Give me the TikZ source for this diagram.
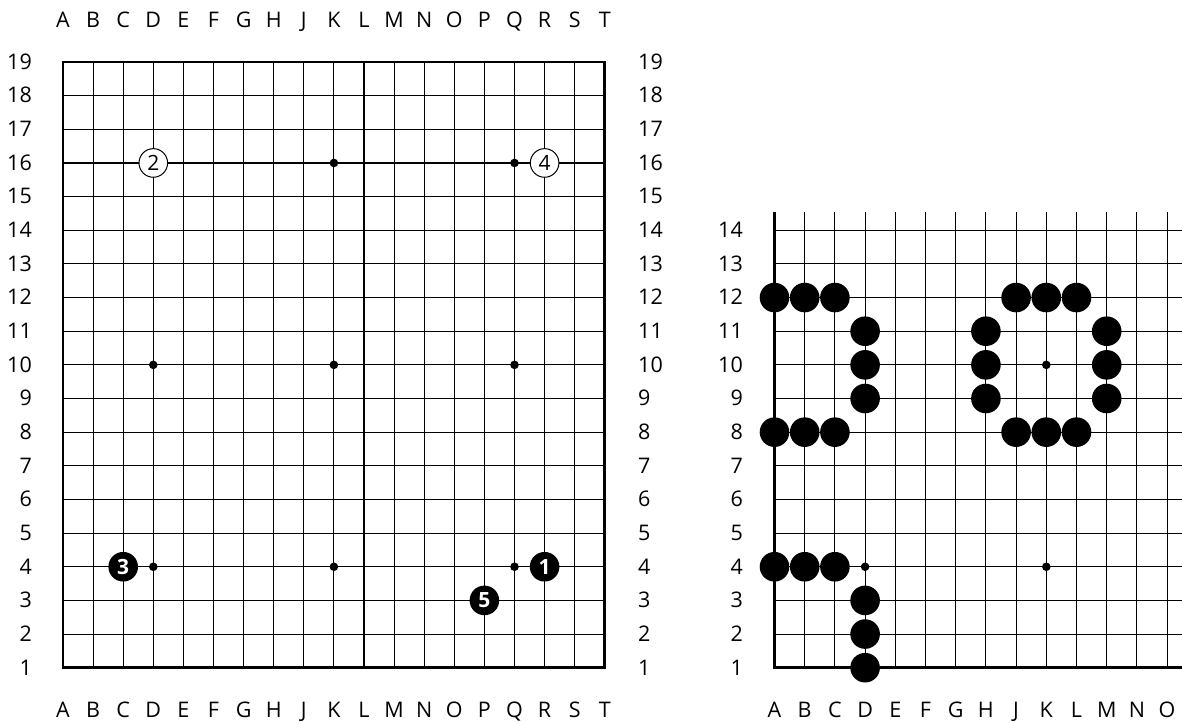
\documentclass[tikz,border=0pt]{standalone}
\usepackage{fontspec}
\setmainfont{Open Sans}
\begin{document}
\begin{tikzpicture}[x=1pt,y=-1pt]
\tikzset{
  gridline/.style={line width=1.1pt, line cap=butt},
  borderline/.style={line width=2.8pt, line join=miter},
  coordlabel/.style={font=\fontsize{21.5pt}{24pt}\selectfont, inner sep=0pt},
  blackstone/.style={circle, fill=black, minimum size=29.6pt, inner sep=0pt, text=white, font=\fontsize{21pt}{22pt}\selectfont\bfseries},
  whitestone/.style={circle, draw=black, line width=1pt, fill=white, minimum size=28.6pt, inner sep=0pt, text=black, font=\fontsize{21pt}{22pt}\selectfont},
  hoshi/.style={circle, fill=black, minimum size=8.6pt, inner sep=0pt},
}
\useasboundingbox (0,0) rectangle (1182,723);
% grid points
\foreach \i in {0,...,18}{\foreach \j in {1,...,19}{
  \coordinate (L\i-\j) at ({63+\i*30.1},{62+(19-\j)*33.65});}}
\foreach \i in {0,...,13}{\foreach \j in {1,...,14}{
  \coordinate (R\i-\j) at ({774.5+\i*30.2},{667.7-(\j-1)*33.65});}}
% left board
\foreach \i in {1,...,17}{\draw[gridline] (L\i-1) -- (L\i-19);}
\foreach \j in {2,...,18}{\draw[gridline] (L0-\j) -- (L18-\j);}
\draw[borderline] (L0-19) rectangle (L18-1);
% right board
\foreach \i in {1,...,13}{\draw[gridline] (R\i-1) -- ([yshift=18pt]R\i-14);}
\foreach \j in {2,...,14}{\draw[gridline] (R0-\j) -- (R0-\j -| 1182,0);}
\draw[borderline] ([yshift=18pt]R0-14) -- (R0-1) -- (R0-1 -| 1182,0);
% labels left board
\foreach \l [count=\k from 0] in {A,B,C,D,E,F,G,H,J,K,L,M,N,O,P,Q,R,S,T}{
  \node[coordlabel, anchor=base] (ltop\k) at (L\k-19 |- 0,27.3) {\l};
  \node[coordlabel, anchor=base] (lbot\k) at (L\k-19 |- 0,717.5) {\l};}
\foreach \j in {1,...,19}{
  \node[coordlabel, anchor=base east] (lleft\j) at ([yshift=-7.3pt]L0-\j -| 32,0) {\j};
  \node[coordlabel, anchor=base west] (lright\j) at ([yshift=-7.3pt]L0-\j -| 638,0) {\j};}
% labels right board
\foreach \l [count=\k from 0] in {A,B,C,D,E,F,G,H,J,K,L,M,N,O}{
  \node[coordlabel, anchor=base] (rbot\k) at (R\k-1 |- 0,717.5) {\l};}
\foreach \j in {1,...,14}{
  \node[coordlabel, anchor=base east] (rleft\j) at ([yshift=-7.3pt]R0-\j -| 743,0) {\j};}
% star points
\foreach \p in {L3-4,L9-4,L15-4,L3-10,L9-10,L15-10,L9-16,L15-16,R3-4,R9-4,R9-10}{
  \node[hoshi] (h\p) at (\p) {};}
% left board stones
\node[blackstone] (m1) at (L16-4) {1};
\node[whitestone] (m2) at (L3-16) {2};
\node[blackstone] (m3) at (L2-4) {3};
\node[whitestone] (m4) at (L16-16) {4};
\node[blackstone] (m5) at (L14-3) {5};
% right board stones
\foreach \p in {R0-12,R1-12,R2-12,R3-11,R3-10,R3-9,R0-8,R1-8,R2-8,R0-4,R1-4,R2-4,R3-3,R3-2,R3-1,
  R7-11,R7-10,R7-9,R8-12,R9-12,R10-12,R11-11,R11-10,R11-9,R8-8,R9-8,R10-8}{
  \node[blackstone] (s\p) at (\p) {};}
\end{tikzpicture}
\end{document}
